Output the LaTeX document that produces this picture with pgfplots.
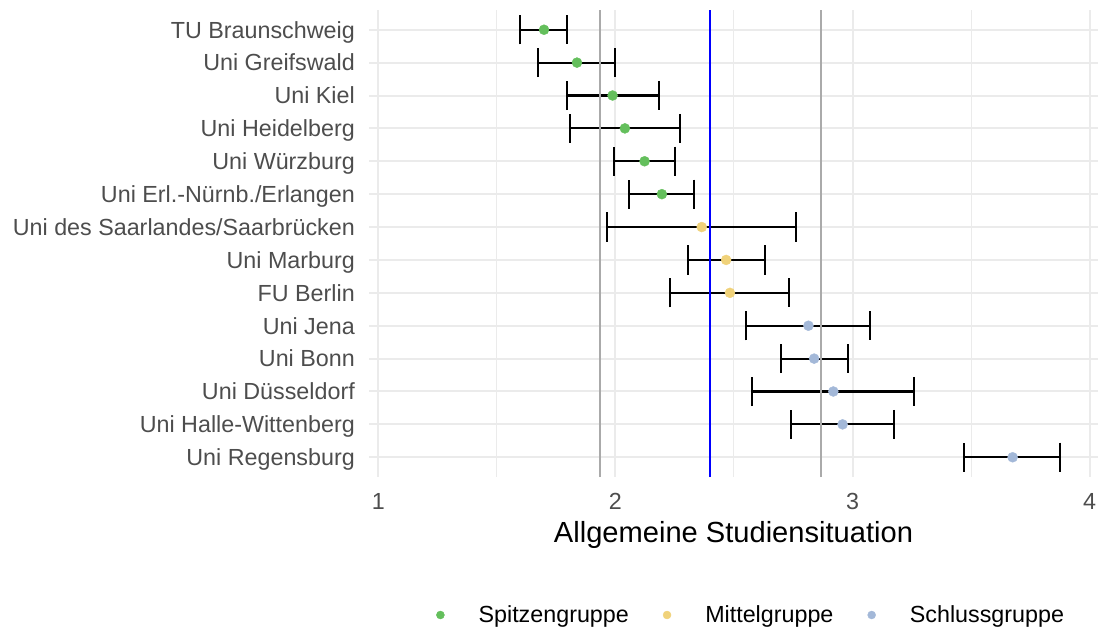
\documentclass[border=0pt]{standalone}
\usepackage{fontspec}
\setmainfont{Liberation Sans}
\usepackage{pgfplots}
\usepackage{pgfplotstable}
\pgfplotsset{compat=1.18}

\definecolor{spitze}{HTML}{64BF5C}
\definecolor{mittel}{HTML}{F0D27A}
\definecolor{schluss}{HTML}{A3B8D8}
\definecolor{gridc}{HTML}{EBEBEB}
\definecolor{reflinec}{HTML}{AAAAAA}
\definecolor{labc}{HTML}{4D4D4D}

% y: 14 = top row ... 1 = bottom row; m = mean, lo/hi = interval
\pgfplotstableread{
y  m      lo     hi
14 1.699  1.598  1.798
13 1.838  1.675  2.000
12 1.988  1.794  2.184
11 2.040  1.810  2.271
10 2.123  1.996  2.251
9  2.196  2.057  2.333
8  2.364  1.966  2.762
7  2.467  2.305  2.632
6  2.483  2.230  2.733
5  2.814  2.550  3.075
4  2.838  2.699  2.980
3  2.919  2.574  3.261
2  2.958  2.740  3.176
1  3.675  3.471  3.875
}\unis

\newcommand{\lab}{\fontsize{23.3bp}{28bp}\selectfont}

\begin{document}
\begin{tikzpicture}
\begin{axis}[
  scale only axis,
  width=729bp, height=467bp,
  xmin=0.961, xmax=4.035,
  ymin=0.4, ymax=14.6,
  xtick={1,2,3,4}, xticklabels={1,2,3,4},
  minor xtick={1.5,2.5,3.5},
  ytick={1,...,14},
  yticklabels={Uni Regensburg, Uni Halle-Wittenberg, Uni Düsseldorf, Uni Bonn,
    Uni Jena, FU Berlin, Uni Marburg, Uni des Saarlandes/Saarbrücken,
    Uni Erl.-Nürnb./Erlangen, Uni Würzburg, Uni Heidelberg, Uni Kiel,
    Uni Greifswald, TU Braunschweig},
  xmajorgrids, xminorgrids, ymajorgrids,
  major grid style={gridc, line width=2bp},
  minor grid style={gridc, line width=1bp},
  axis line style={draw=none},
  tick style={draw=none},
  major tick length=0pt, minor tick length=0pt,
  xticklabel style={font=\lab, text=labc, inner sep=0pt, anchor=base, yshift=-32bp},
  yticklabel style={font=\lab, text=labc, inner sep=0pt, anchor=base east, xshift=-14bp, yshift=-8.35bp},
  xlabel={Allgemeine Studiensituation},
  every axis x label/.style={at={(axis description cs:0.5,-0.1413)}, anchor=base,
    inner sep=0pt, font=\fontsize{29.1bp}{34bp}\selectfont},
  legend columns=3,
  legend style={at={(axis description cs:0.0919,-0.2955)}, anchor=west,
    draw=none, fill=none, inner sep=0pt, font=\lab,
    nodes={inner sep=0pt},
    /tikz/every odd column/.append style={column sep=34bp},
    /tikz/every even column/.append style={column sep=34bp}},
  legend image code/.code={\fill[#1] (5bp,0) circle (4bp);},
]
% error bars
\addplot[only marks, mark=none, forget plot,
  error bars/.cd, x dir=both, x explicit, error mark=|,
  error bar style={line width=2.2bp, black},
  error mark options={line width=2bp, black, mark size=14.6bp}]
  table[x=m, y=y, x error plus expr=\thisrow{hi}-\thisrow{m},
        x error minus expr=\thisrow{m}-\thisrow{lo}] {\unis};
% reference lines
\addplot[reflinec, line width=2bp, forget plot] coordinates {(1.933,0.4) (1.933,14.6)};
\addplot[reflinec, line width=2bp, forget plot] coordinates {(2.865,0.4) (2.865,14.6)};
\addplot[blue, line width=2.2bp, forget plot] coordinates {(2.398,0.4) (2.398,14.6)};
% points
\addplot[only marks, mark=*, color=spitze, mark size=5bp, restrict y to domain=8.5:14.5]
  table[x=m, y=y] {\unis};
\addlegendentry{Spitzengruppe}
\addplot[only marks, mark=*, color=mittel, mark size=5bp, restrict y to domain=5.5:8.5]
  table[x=m, y=y] {\unis};
\addlegendentry{Mittelgruppe}
\addplot[only marks, mark=*, color=schluss, mark size=5bp, restrict y to domain=0:5.5]
  table[x=m, y=y] {\unis};
\addlegendentry{Schlussgruppe}
\coordinate (pSW) at (rel axis cs:0,0);
\end{axis}
\pgfresetboundingbox
\path (pSW) ++(-369bp,-158bp) rectangle ++(1098bp,635bp);
\end{tikzpicture}
\end{document}
